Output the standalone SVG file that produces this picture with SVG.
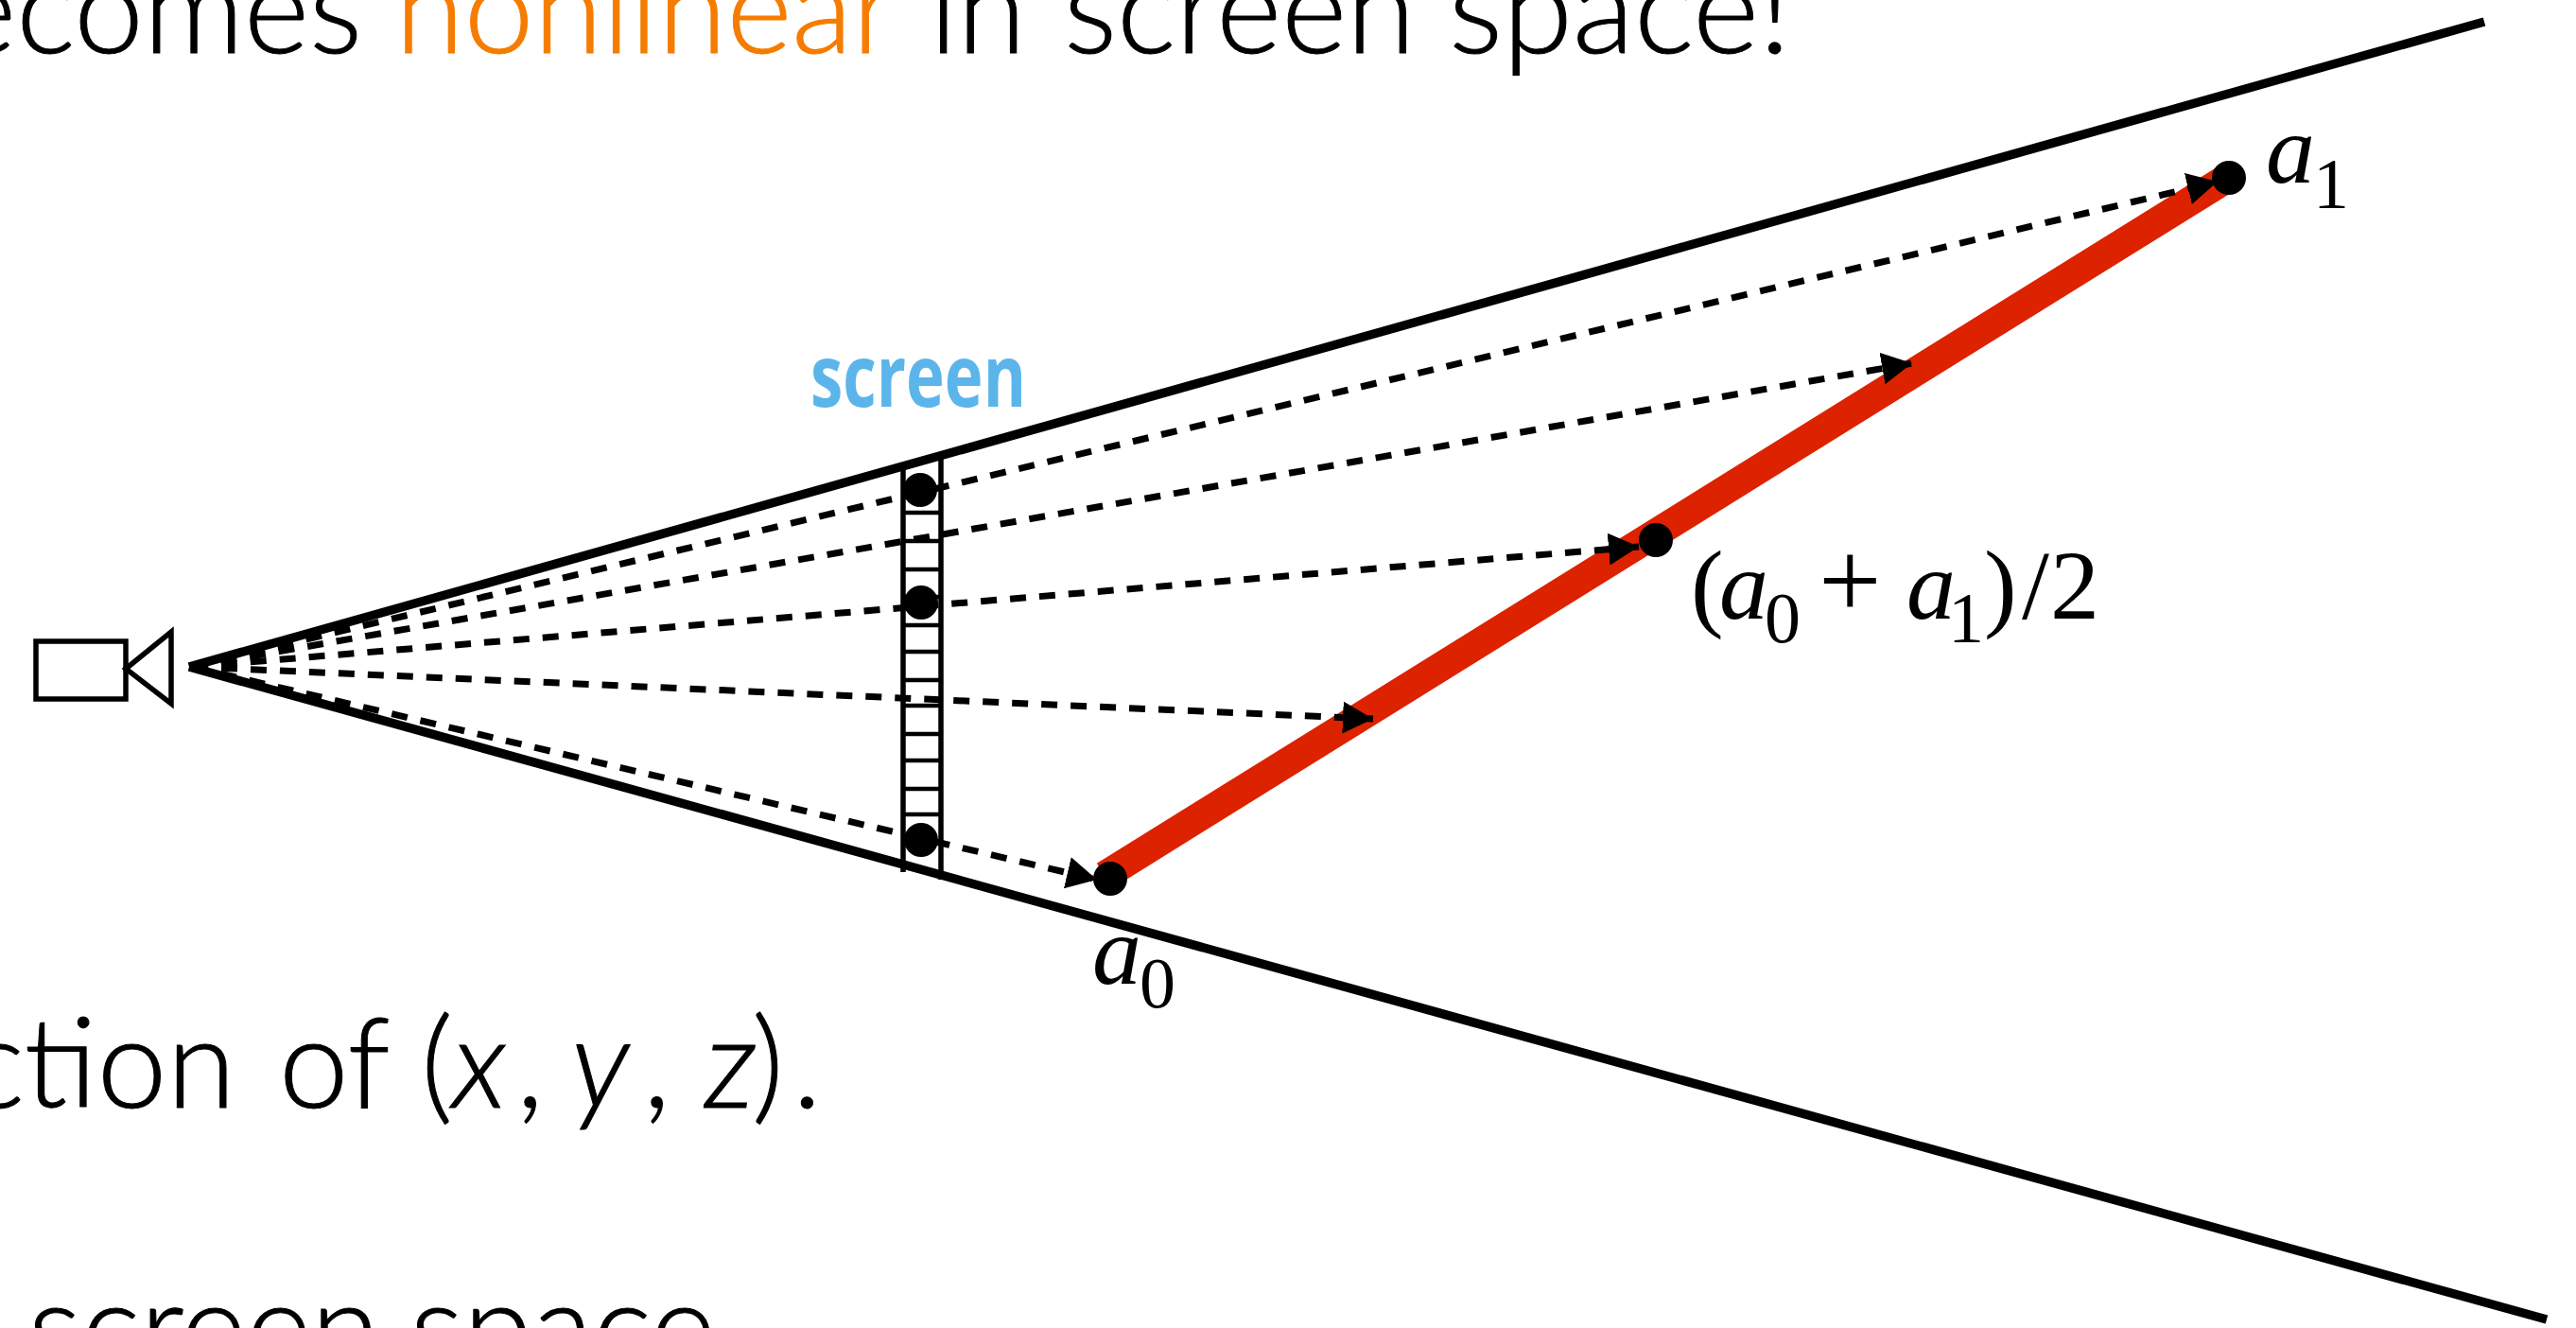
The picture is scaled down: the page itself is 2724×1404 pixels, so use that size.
<svg xmlns="http://www.w3.org/2000/svg" width="2724" height="1404" viewBox="0 0 2724 1404">
<style>
.body{font-family:"Lato","Liberation Sans",sans-serif;font-weight:300;font-size:132px;fill:#000;stroke:#000;stroke-width:1}
.orange{fill:#f57c00;stroke:#f57c00}
.i{font-style:italic}
.math{font-family:"Liberation Serif",serif;font-size:104px;fill:#000}
.sub{font-size:76px}
.it{font-style:italic}
.solid{stroke:#000;stroke-width:9.5;fill:none}
.dash{stroke:#000;stroke-width:7;stroke-dasharray:17 14;fill:none;marker-end:url(#arrow)}
.thin{stroke:#000;stroke-width:5.5;fill:none}
.tick{stroke:#000;stroke-width:4.5}
</style>
<defs>
<marker id="arrow" markerUnits="userSpaceOnUse" markerWidth="36" markerHeight="36" refX="32" refY="17" orient="auto">
<path d="M0 0L32 17L0 34z" fill="#000"/>
</marker>
</defs>
<rect width="2724" height="1404" fill="#fff"/>
<g id="body-text">
<text class="body" x="383" y="56" text-anchor="end">becomes</text>
<text class="body orange" x="418" y="56" textLength="530" lengthAdjust="spacingAndGlyphs">nonlinear</text>
<text class="body" x="983" y="56">in</text>
<text class="body" x="1125" y="56">screen</text>
<text class="body" x="1532" y="56" textLength="362" lengthAdjust="spacingAndGlyphs">space!</text>
<text class="body" x="249" y="1171" text-anchor="end">ction</text>
<text class="body" x="295" y="1171">of</text>
<text class="body" x="445" y="1171">(</text>
<text class="body i" x="478" y="1171">x</text>
<text class="body" x="546" y="1171">,</text>
<text class="body i" x="604" y="1171">y</text>
<text class="body" x="680" y="1171">,</text>
<text class="body i" x="745" y="1171">z</text>
<text class="body" x="795" y="1171">)</text>
<text class="body" x="838" y="1171">.</text>
<text class="body" x="30" y="1450">screen</text>
<text class="body" x="434" y="1450">space</text>
</g>
<g id="segment"><line x1="1168" y1="926" x2="2362" y2="184" stroke="#dd2200" stroke-width="31"/></g>
<g id="connectors">
<line class="solid" x1="200" y1="705" x2="2627" y2="23"/>
<line class="solid" x1="200" y1="705" x2="2693" y2="1395"/>
<line class="dash" x1="203" y1="705" x2="2345" y2="192"/>
<line class="dash" x1="203" y1="705" x2="2022" y2="384"/>
<line class="dash" x1="203" y1="705" x2="1733" y2="578"/>
<line class="dash" x1="203" y1="705" x2="1452" y2="760"/>
<line class="dash" x1="203" y1="705" x2="1160" y2="930"/>
</g>
<g id="screen">
<line class="thin" x1="955" y1="490" x2="955" y2="922"/>
<line class="thin" x1="995" y1="480" x2="995" y2="930"/>
<g class="tick">
<line x1="955" x2="995" y1="542" y2="542"/><line x1="955" x2="995" y1="572" y2="572"/><line x1="955" x2="995" y1="602" y2="602"/><line x1="955" x2="995" y1="631" y2="631"/><line x1="955" x2="995" y1="661" y2="661"/><line x1="955" x2="995" y1="689" y2="689"/><line x1="955" x2="995" y1="719" y2="719"/><line x1="955" x2="995" y1="746" y2="746"/><line x1="955" x2="995" y1="776" y2="776"/><line x1="955" x2="995" y1="804" y2="804"/><line x1="955" x2="995" y1="834" y2="834"/><line x1="955" x2="995" y1="861" y2="861"/>
</g>
<text x="857" y="430" font-family="Open Sans,sans-serif" font-weight="700" font-size="92" fill="#5bb5ea" textLength="228" lengthAdjust="spacingAndGlyphs">screen</text>
</g>
<g id="camera">
<rect class="thin" x="38" y="678" width="95" height="61"/>
<path class="thin" d="M181 668V744L133 707z"/>
</g>
<g id="points">
<circle cx="973" cy="518" r="18"/><circle cx="974" cy="637" r="18"/><circle cx="974" cy="888" r="18"/>
<circle cx="1174" cy="929" r="18"/><circle cx="1751" cy="571" r="18"/><circle cx="2357" cy="188" r="18"/>
</g>
<g id="labels">
<text class="math it" x="2396" y="193">a<tspan class="sub" font-style="normal" dy="27" dx="-2">1</tspan></text>
<text class="math it" x="1155" y="1040">a<tspan class="sub" font-style="normal" dy="25" dx="-2">0</tspan></text>
<text class="math" x="1788" y="654">(<tspan class="it" x="1818">a</tspan><tspan class="sub" x="1866" y="679">0</tspan><tspan x="1923" y="654" font-size="118">+</tspan><tspan class="it" x="2016">a</tspan><tspan class="sub" x="2060" y="679">1</tspan><tspan x="2098" y="654">)</tspan><tspan x="2138">/</tspan><tspan x="2168">2</tspan></text>
</g>
</svg>
